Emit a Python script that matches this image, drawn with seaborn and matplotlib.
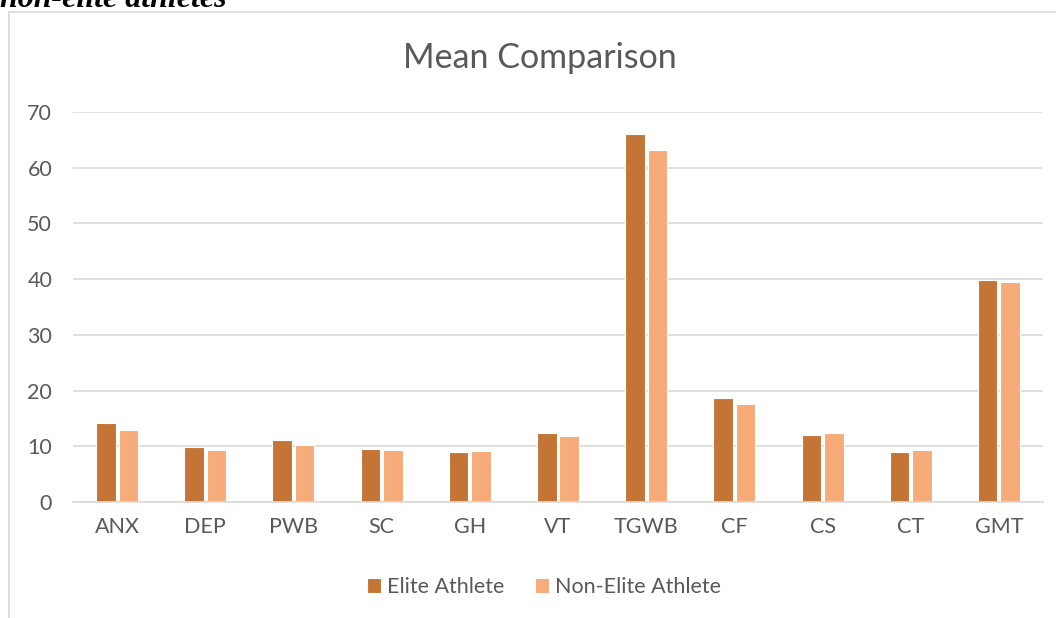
import matplotlib
matplotlib.use("Agg")
import matplotlib.pyplot as plt
from matplotlib.patches import Rectangle
import seaborn as sns
import pandas as pd

categories = ["ANX", "DEP", "PWB", "SC", "GH", "VT", "TGWB", "CF", "CS", "CT", "GMT"]
elite = [14.1, 9.9, 11.2, 9.5, 8.9, 12.3, 66.0, 18.7, 12.1, 8.9, 39.9]
non_elite = [12.9, 9.3, 10.2, 9.3, 9.1, 11.9, 63.1, 17.6, 12.4, 9.3, 39.5]
series_names = ["Elite Athlete", "Non-Elite Athlete"]
palette = ["#C47535", "#F7AB78"]

df = pd.DataFrame({
    "category": categories * 2,
    "value": elite + non_elite,
    "series": [series_names[0]] * len(categories) + [series_names[1]] * len(categories),
})

sns.set_theme(style="white")
plt.rcParams["font.family"] = ["Lato", "DejaVu Sans"]
text_color = "#595959"
grid_color = "#D9D9D9"

fig = plt.figure(figsize=(10.56, 6.18), dpi=100)
ax = fig.add_axes([0.0691, 0.1877, 0.9186, 0.6311])

sns.barplot(data=df, x="category", y="value", hue="series", order=categories,
            hue_order=series_names, palette=palette, width=0.51, gap=0.13,
            edgecolor="white", linewidth=0.8, saturation=1, ax=ax, legend=True)

ax.set_ylim(0, 70)
ax.set_yticks(range(0, 71, 10))
ax.set_xlim(-0.5, len(categories) - 0.5)
ax.yaxis.grid(True, color=grid_color, linewidth=1.2)
ax.set_axisbelow(True)
for side in ["left", "right", "top"]:
    ax.spines[side].set_visible(False)
ax.spines["bottom"].set_color(grid_color)
ax.spines["bottom"].set_linewidth(1.2)
ax.tick_params(axis="both", length=0, labelsize=15.5, labelcolor=text_color)
ax.tick_params(axis="y", pad=15)
ax.tick_params(axis="x", pad=11)
ax.set_xlabel("")
ax.set_ylabel("")

leg = ax.legend(loc="center", bbox_to_anchor=(0.515, 0.05), bbox_transform=fig.transFigure,
                ncol=2, frameon=False, fontsize=15.5, handlelength=0.65, handleheight=0.65,
                handletextpad=0.3, columnspacing=1.4)
for t in leg.get_texts():
    t.set_color(text_color)

fig.text(0.511, 0.906, "Mean Comparison", ha="center", va="center",
         fontsize=24.5, color=text_color)

# chart frame
fig.patches.append(Rectangle((9 / 1056, -0.1), 1.2, (606 / 618) + 0.1,
                             transform=fig.transFigure, fill=False,
                             edgecolor=grid_color, linewidth=1.2))

fig.text(0.0, 611 / 618, "non-elite athletes", ha="left", va="baseline",
         fontsize=23, fontweight="bold", fontstyle="italic",
         family=["Liberation Serif", "DejaVu Serif"], color="black")

fig.savefig("out.png", dpi=100, facecolor="white")
